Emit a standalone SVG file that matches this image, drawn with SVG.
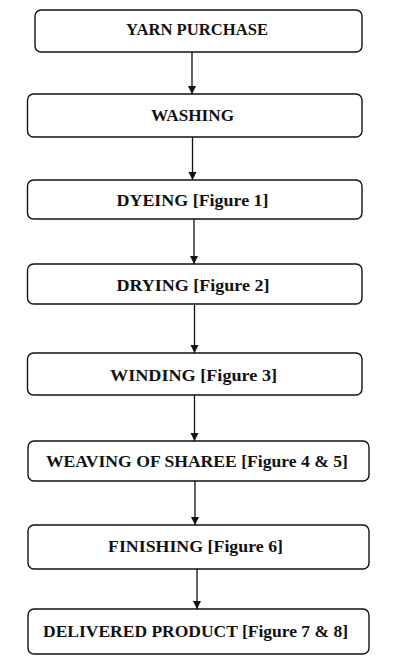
<svg xmlns="http://www.w3.org/2000/svg" width="410" height="657" viewBox="0 0 410 657">
<style>
.box{fill:#fff;stroke:#111;stroke-width:1.4}
.lbl{font-family:"Liberation Serif","DejaVu Serif",serif;font-weight:bold;font-size:16.5px;fill:#111;text-anchor:middle}
.con{stroke:#111;stroke-width:1.3;fill:none;marker-end:url(#ah)}
</style>
<defs>
<marker id="ah" viewBox="0 0 10 10" refX="10" refY="5" markerWidth="8" markerHeight="9" markerUnits="userSpaceOnUse" orient="auto">
<path d="M0,0 L10,5 L0,10 z" fill="#111"/>
</marker>
</defs>
<rect width="410" height="657" fill="#fff"/>
<g id="connectors">
<line class="con" x1="192" y1="52" x2="192" y2="94"/>
<line class="con" x1="192.5" y1="137" x2="192.5" y2="180"/>
<line class="con" x1="194" y1="219" x2="194" y2="264"/>
<line class="con" x1="194.5" y1="304" x2="194.5" y2="353"/>
<line class="con" x1="194.5" y1="395" x2="194.5" y2="441"/>
<line class="con" x1="195" y1="481" x2="195" y2="525"/>
<line class="con" x1="197" y1="569" x2="197" y2="609"/>
</g>
<g id="n1"><rect class="box" x="35" y="10" width="327" height="42" rx="6"/><text class="lbl" x="197" y="35" textLength="142" lengthAdjust="spacingAndGlyphs">YARN PURCHASE</text></g>
<g id="n2"><rect class="box" x="27.5" y="94" width="334.5" height="43" rx="6"/><text class="lbl" x="192.5" y="121" textLength="83" lengthAdjust="spacingAndGlyphs">WASHING</text></g>
<g id="n3"><rect class="box" x="27.5" y="180" width="334.5" height="39" rx="6"/><text class="lbl" x="192.5" y="206" textLength="152" lengthAdjust="spacingAndGlyphs">DYEING [Figure 1]</text></g>
<g id="n4"><rect class="box" x="27.5" y="264" width="334.5" height="40" rx="6"/><text class="lbl" x="193" y="291" textLength="153" lengthAdjust="spacingAndGlyphs">DRYING [Figure 2]</text></g>
<g id="n5"><rect class="box" x="27.5" y="353" width="334.5" height="42" rx="6"/><text class="lbl" x="193.5" y="381" textLength="167" lengthAdjust="spacingAndGlyphs">WINDING [Figure 3]</text></g>
<g id="n6"><rect class="box" x="28" y="441" width="341" height="40" rx="6"/><text class="lbl" x="197" y="467" textLength="302" lengthAdjust="spacingAndGlyphs">WEAVING OF SHAREE [Figure 4 &amp; 5]</text></g>
<g id="n7"><rect class="box" x="28" y="525" width="341" height="44" rx="6"/><text class="lbl" x="195.5" y="552" textLength="175" lengthAdjust="spacingAndGlyphs">FINISHING [Figure 6]</text></g>
<g id="n8"><rect class="box" x="28" y="609" width="341" height="45" rx="6"/><text class="lbl" x="195.5" y="637" textLength="305" lengthAdjust="spacingAndGlyphs">DELIVERED PRODUCT  [Figure 7 &amp; 8]</text></g>
</svg>
